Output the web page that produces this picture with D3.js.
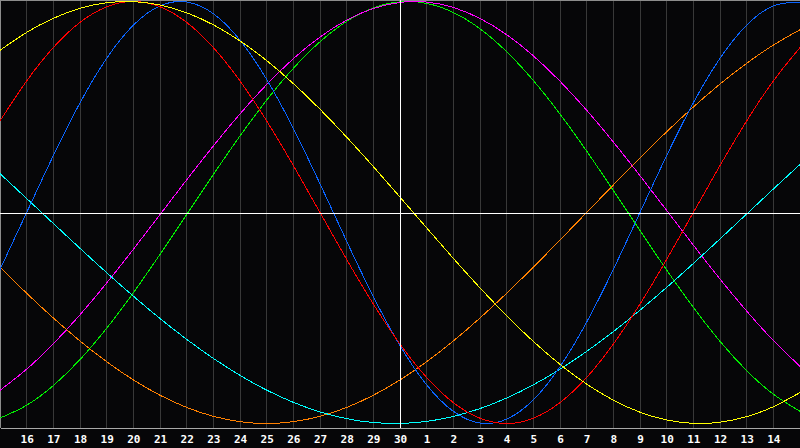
<!DOCTYPE html>
<html>
<head>
<meta charset="utf-8">
<script src="https://cdn.jsdelivr.net/npm/d3@7"></script>
<style>
  html, body { margin: 0; padding: 0; background: #060608; }
  svg { display: block; }
</style>
</head>
<body>
<svg id="chart" width="800" height="448"></svg>
<script>
// Day labels under the chart (positions 1..29 of a 0..30 day index)
const dayLabels = ["16","17","18","19","20","21","22","23","24","25","26","27","28","29","30",
                   "1","2","3","4","5","6","7","8","9","10","11","12","13","14"];

// Curve values per day index 0..30 (day 15 .. day 15 of next month)
const yellowValues = [0.7687,0.8535,0.9204,0.9675,0.9940,0.9993,0.9834,0.9465,0.8894,0.8133,0.7199,0.6111,0.4894,0.3572,0.2174,0.0730,-0.0730,-0.2174,-0.3572,-0.4894,-0.6111,-0.7199,-0.8133,-0.8894,-0.9465,-0.9834,-0.9993,-0.9940,-0.9675,-0.9204,-0.8535];
const redValues = [0.4339,0.6235,0.7818,0.9010,0.9749,1,0.9749,0.9010,0.7818,0.6235,0.4339,0.2225,0,-0.2225,-0.4339,-0.6235,-0.7818,-0.9010,-0.9749,-1,-0.9749,-0.9010,-0.7818,-0.6235,-0.4339,-0.2225,0,0.2225,0.4339,0.6235,0.7818];
const blueValues = [-0.2698,0,0.2698,0.5196,0.7308,0.8879,0.9791,0.9977,0.9423,0.8170,0.6311,0.3984,0.1362,-0.1362,-0.3984,-0.6311,-0.8170,-0.9423,-0.9977,-0.9791,-0.8879,-0.7308,-0.5196,-0.2698,0,0.2698,0.5196,0.7308,0.8879,0.9791,0.9977];
const greenValues = [-0.9740,-0.9135,-0.8201,-0.6969,-0.5486,-0.3805,-0.1986,-0.0095,0.1799,0.3628,0.5326,0.6832,0.8090,0.9056,0.9695,0.9984,0.9911,0.9480,0.8707,0.7620,0.6256,0.4667,0.2908,0.1045,-0.0856,-0.2726,-0.4497,-0.6106,-0.7494,-0.8612,-0.9418];
const magentaValues = [-0.8426,-0.7425,-0.6221,-0.4847,-0.3341,-0.1744,-0.0099,0.1548,0.3153,0.4672,0.6064,0.7290,0.8317,0.9118,0.9669,0.9957,0.9974,0.9718,0.9197,0.8425,0.7425,0.6221,0.4847,0.3341,0.1744,0.0099,-0.1548,-0.3153,-0.4672,-0.6064,-0.7290];
const orangeValues = [-0.2588,-0.3827,-0.5,-0.6088,-0.7071,-0.7934,-0.8660,-0.9239,-0.9659,-0.9914,-1,-0.9914,-0.9659,-0.9239,-0.8660,-0.7934,-0.7071,-0.6088,-0.5,-0.3827,-0.2588,-0.1305,0,0.1305,0.2588,0.3827,0.5,0.6088,0.7071,0.7934,0.8660];
const cyanValues = [0.1840,0.0664,-0.0521,-0.1699,-0.2852,-0.3965,-0.5024,-0.6011,-0.6914,-0.7717,-0.8418,-0.8997,-0.9450,-0.9771,-0.9954,-0.9997,-0.9901,-0.9665,-0.9293,-0.8792,-0.8168,-0.7427,-0.6582,-0.5646,-0.4630,-0.3549,-0.2418,-0.1253,-0.0071,0.1112,0.2280];

const seriesList = [
  { values: greenValues,   color: "#00f000" },
  { values: magentaValues, color: "#ff00ff" },
  { values: orangeValues,  color: "#ff8000" },
  { values: cyanValues,    color: "#00ffff" },
  { values: blueValues,    color: "#0a64ff" },
  { values: redValues,     color: "#ff0000" },
  { values: yellowValues,  color: "#ffff00" }
];

const W = 800, plotBottom = 428;
const svg = d3.select("#chart");

const x = d3.scaleLinear().domain([0, 30]).range([0, W]);
const y = d3.scaleLinear().domain([-1, 1]).range([423.5, 1.5]);

svg.append("rect").attr("x", 0).attr("y", 0).attr("width", W).attr("height", 448).attr("fill", "#060608");

// vertical day gridlines
const gridIdx = d3.range(1, 30);
svg.append("g").selectAll("line").data(gridIdx).join("line")
  .attr("x1", d => Math.floor(x(d)) + 0.5).attr("x2", d => Math.floor(x(d)) + 0.5)
  .attr("y1", 0).attr("y2", plotBottom)
  .attr("stroke", "#383838").attr("stroke-width", 1).attr("shape-rendering", "crispEdges");

// borders
svg.append("line").attr("x1", 0.5).attr("x2", 0.5).attr("y1", 0).attr("y2", plotBottom)
  .attr("stroke", "#8c8c8c").attr("shape-rendering", "crispEdges");
svg.append("line").attr("x1", 0).attr("x2", W).attr("y1", 0.5).attr("y2", 0.5)
  .attr("stroke", "#8c8c8c").attr("shape-rendering", "crispEdges");

// curves
const line = d3.line().x((d, i) => x(i)).y(d => y(d)).curve(d3.curveNatural);
svg.append("g").selectAll("path").data(seriesList).join("path")
  .attr("d", d => line(d.values))
  .attr("fill", "none")
  .attr("stroke", d => d.color)
  .attr("stroke-width", 1)
  .attr("shape-rendering", "crispEdges");

// center cross (white)
svg.append("line").attr("x1", 0).attr("x2", W)
  .attr("y1", Math.round(y(0)) + 0.5).attr("y2", Math.round(y(0)) + 0.5)
  .attr("stroke", "#ffffff").attr("shape-rendering", "crispEdges");
svg.append("line").attr("x1", Math.floor(x(15)) + 0.5).attr("x2", Math.floor(x(15)) + 0.5)
  .attr("y1", 0).attr("y2", plotBottom)
  .attr("stroke", "#ffffff").attr("shape-rendering", "crispEdges");

// bottom axis with day labels
const axis = d3.axisBottom(x)
  .tickValues(gridIdx)
  .tickFormat(d => dayLabels[d - 1])
  .tickSize(0)
  .tickSizeOuter(0)
  .tickPadding(7);
const ag = svg.append("g").attr("transform", `translate(0,${plotBottom})`).call(axis);
ag.select(".domain").attr("stroke", "#a8a8a8").attr("shape-rendering", "crispEdges");
ag.selectAll("text")
  .attr("fill", "#ffffff")
  .attr("font-family", "'DejaVu Sans Mono', monospace")
  .attr("font-weight", "bold")
  .attr("font-size", 11);
</script>
</body>
</html>
